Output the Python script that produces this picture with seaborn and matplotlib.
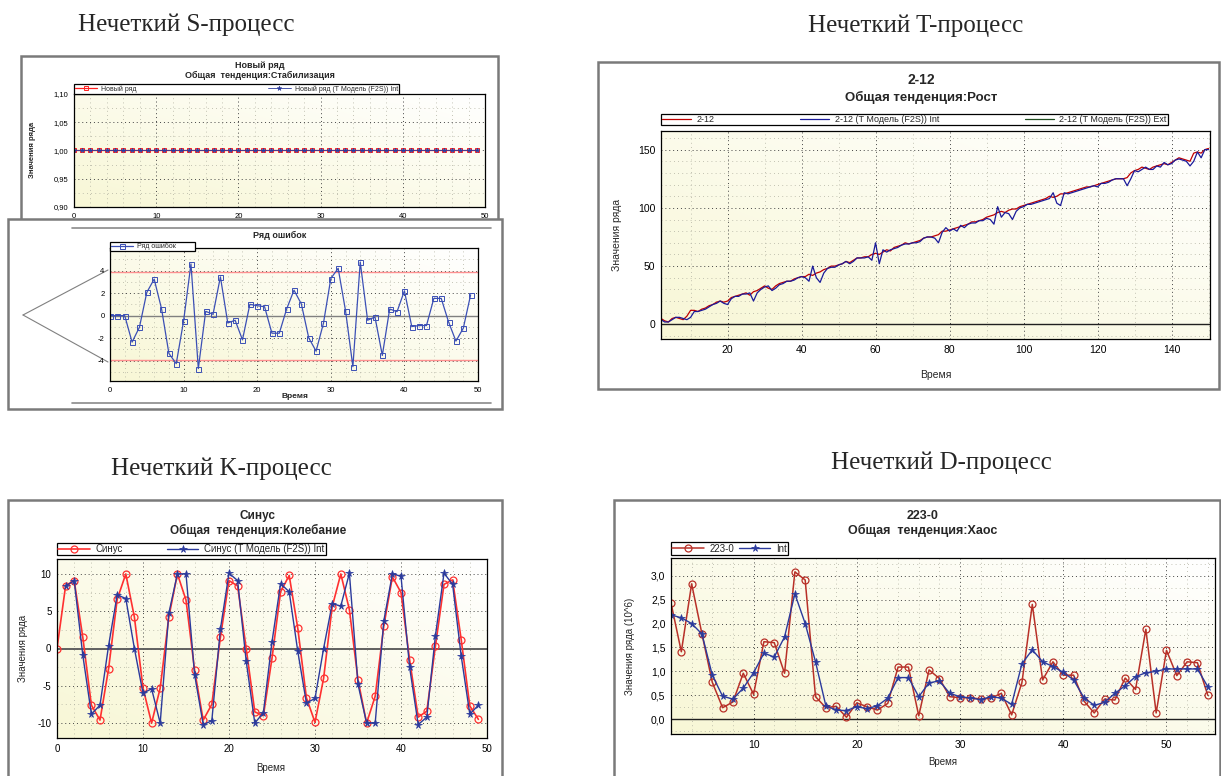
import numpy as np
import matplotlib
matplotlib.use("Agg")
import matplotlib.pyplot as plt
import matplotlib.ticker as mticker
from matplotlib.patches import Rectangle
from matplotlib.lines import Line2D
from matplotlib.colors import LinearSegmentedColormap
import seaborn as sns

sns.set_style("white")
plt.rcParams["font.family"] = ["Liberation Sans", "DejaVu Sans"]
plt.rcParams["axes.unicode_minus"] = False

# ---- data ----
s_time = list(range(0, 50))
s_values = [1.0] * 50
s_model = [1.0] * 50

err_time = list(range(0, 50))
err_values = [0, 0, 0, -2.35, -1.03, 2.06, 3.24, 0.62, -3.35, -4.26,
              -0.47, 4.59, -4.7, 0.38, 0.12, 3.44, -0.65, -0.41, -2.15, 1.0,
              0.88, 0.79, -1.56, -1.56, 0.59, 2.26, 1.03, -1.97, -3.15, -0.68,
              3.29, 4.2, 0.44, -4.53, 4.76, -0.41, -0.12, -3.53, 0.59, 0.35,
              2.2, -0.97, -0.88, -0.88, 1.53, 1.53, -0.56, -2.26, -1.12, 1.85]
err_limit = 3.9

t_time = list(range(2, 151))
t_values = [5, 3, 2, 5, 6, 5, 4, 7, 12, 12,
            11, 13, 14, 16, 17, 19, 20, 19, 20, 23,
            24, 25, 26, 27, 25, 28, 29, 31, 33, 31,
            30, 33, 35, 36, 37, 37, 39, 40, 41, 41,
            43, 42, 44, 45, 47, 48, 50, 50, 51, 52,
            54, 53, 55, 57, 57, 58, 58, 60, 61, 60,
            62, 64, 63, 66, 67, 68, 70, 69, 70, 71,
            72, 74, 75, 75, 76, 77, 80, 80, 81, 82,
            83, 84, 85, 86, 88, 88, 89, 90, 92, 93,
            94, 96, 97, 96, 98, 99, 99, 101, 102, 103,
            104, 105, 106, 107, 108, 110, 109, 110, 112, 112,
            113, 114, 115, 116, 117, 118, 118, 119, 120, 121,
            122, 123, 124, 125, 125, 125, 126, 130, 132, 133,
            135, 134, 133, 135, 136, 137, 138, 137, 139, 141,
            143, 142, 141, 140, 147, 148, 147, 150, 151]
t_model = [4, 2, 2, 4, 6, 6, 5, 4, 6, 11,
           11, 12, 13, 15, 17, 18, 20, 18, 17, 22,
           24, 24, 26, 26, 27, 20, 27, 30, 32, 33,
           29, 31, 34, 35, 37, 37, 38, 40, 41, 40,
           37, 50, 40, 36, 44, 48, 49, 49, 51, 52,
           54, 52, 54, 57, 57, 57, 58, 55, 70, 52,
           64, 62, 64, 65, 66, 68, 69, 69, 70, 70,
           71, 74, 75, 75, 74, 70, 79, 83, 80, 82,
           80, 85, 83, 86, 87, 87, 89, 89, 91, 90,
           86, 101, 92, 96, 95, 90, 97, 100, 101, 103,
           103, 104, 105, 106, 107, 108, 113, 104, 102, 113,
           112, 113, 114, 115, 116, 117, 118, 119, 118, 121,
           121, 122, 124, 125, 125, 125, 119, 125, 132, 131,
           133, 135, 133, 133, 136, 135, 139, 137, 138, 141,
           142, 141, 140, 136, 140, 148, 143, 150, 150]

k_time = list(range(0, 50))
k_values = [0, 8.4, 9.1, 1.5, -7.6, -9.6, -2.7, 6.6, 10.0, 4.2,
            -5.3, -10.0, -5.3, 4.2, 10.0, 6.5, -2.9, -9.6, -7.5, 1.5,
            9.1, 8.4, 0, -8.5, -9.0, -1.3, 7.6, 9.8, 2.7, -6.6,
            -9.9, -4.0, 5.6, 10.0, 5.2, -4.2, -10.0, -6.4, 3.0, 9.6,
            7.5, -1.5, -9.2, -8.4, 0.3, 8.6, 9.2, 1.2, -7.7, -9.5]
k_model_time = list(range(1, 50))
k_model = [8.4, 9.1, -0.9, -8.8, -7.6, 0.4, 7.2, 6.7, 0.0,
           -6.0, -5.4, -10.0, 4.7, 10.0, 10.0, -3.5, -10.2, -9.7, 2.6,
           10.1, 9.1, -1.7, -10.0, -8.6, 0.9, 8.7, 7.6, -0.4, -7.3,
           -6.7, 0.0, 6.0, 5.7, 10.1, -4.8, -10.0, -10.0, 3.7, 10.0,
           9.7, -2.5, -10.2, -9.2, 1.7, 10.1, 8.6, -1.0, -8.8, -7.6]

d_time = list(range(2, 55))
d_values = [2.43, 1.41, 2.83, 1.78, 0.77, 0.24, 0.36, 0.96, 0.52,
            1.62, 1.6, 0.96, 3.08, 2.91, 0.47, 0.24, 0.27, 0.04, 0.34,
            0.26, 0.19, 0.33, 1.09, 1.09, 0.07, 1.03, 0.85, 0.47, 0.45,
            0.45, 0.42, 0.44, 0.54, 0.09, 0.77, 2.4, 0.82, 1.2, 0.92,
            0.92, 0.38, 0.13, 0.42, 0.4, 0.86, 0.62, 1.88, 0.13, 1.44,
            0.91, 1.2, 1.18, 0.5]
d_model = [2.18, 2.12, 2.0, 1.78, 0.92, 0.48, 0.42, 0.65, 0.97,
           1.38, 1.3, 1.72, 2.62, 2.0, 1.2, 0.28, 0.19, 0.18, 0.26,
           0.22, 0.28, 0.44, 0.87, 0.87, 0.47, 0.76, 0.8, 0.54, 0.47,
           0.44, 0.41, 0.47, 0.44, 0.31, 1.16, 1.45, 1.2, 1.1, 0.98,
           0.82, 0.45, 0.29, 0.35, 0.54, 0.7, 0.89, 0.97, 1.0, 1.05,
           1.05, 1.05, 1.05, 0.68]

# ---- layout helpers (pixel coordinates of the 1221x776 canvas) ----
W, H = 1221, 776
fig = plt.figure(figsize=(W / 100, H / 100), dpi=100)
fig.patch.set_facecolor("white")

cream = LinearSegmentedColormap.from_list("cream", ["#f8f7d6", "#ffffff"])


def fx(x):
    return x / W


def fy(y):
    return 1 - y / H


def add_axes_px(l, t, r, b, z=1):
    return fig.add_axes([fx(l), fy(b), (r - l) / W, (b - t) / H], zorder=z)


def frame(l, t, r, b, z=0.2, fill=False):
    fig.add_artist(Rectangle((fx(l), fy(b)), (r - l) / W, (b - t) / H,
                             transform=fig.transFigure, fill=fill,
                             facecolor="white", edgecolor="#7a7a7a",
                             linewidth=1.8, zorder=z))


def style_axes(ax, xmaj, xmin, ymaj, ymin, size, fmt=None):
    gx, gy = np.meshgrid(np.linspace(0, 1, 40), np.linspace(0, 1, 40))
    ax.imshow((gx + gy) / 2, cmap=cream, origin="lower", extent=(0, 1, 0, 1),
              transform=ax.transAxes, aspect="auto", zorder=0,
              interpolation="bilinear")
    ax.xaxis.set_major_locator(mticker.MultipleLocator(xmaj))
    ax.xaxis.set_minor_locator(mticker.MultipleLocator(xmin))
    ax.yaxis.set_major_locator(mticker.MultipleLocator(ymaj))
    ax.yaxis.set_minor_locator(mticker.MultipleLocator(ymin))
    if fmt:
        ax.yaxis.set_major_formatter(
            mticker.FuncFormatter(lambda v, p: fmt.format(v).replace(".", ",")))
    ax.grid(True, which="major", linestyle=(0, (1, 3)), color="#444444", lw=0.7)
    ax.grid(True, which="minor", linestyle=(0, (1, 4)), color="#b0b0a0", lw=0.6)
    ax.tick_params(which="major", direction="inout", length=4, width=0.8,
                   labelsize=size, pad=2, colors="black")
    ax.tick_params(which="minor", direction="in", length=2, width=0.6)
    for sp in ax.spines.values():
        sp.set_visible(True)
        sp.set_color("black")
        sp.set_linewidth(0.9)


def legend_px(ax, l, t, r, b, ncol, size, handles=None, expand=True):
    if handles is None:
        handles, _ = ax.get_legend_handles_labels()
    ax.legend(handles=handles, loc="center left" if not expand else "center",
              bbox_to_anchor=(fx(l), fy(b), (r - l) / W, (b - t) / H),
              bbox_transform=fig.transFigure, mode="expand" if expand else None,
              ncol=ncol, fontsize=size, frameon=True, fancybox=False,
              edgecolor="black", framealpha=1, borderpad=0.15,
              borderaxespad=0, handlelength=3.2, handletextpad=0.6,
              columnspacing=0.5, labelspacing=0.1)
    ax.get_legend().get_frame().set_linewidth(0.9)


def label_px(ax, l, t, r, b, xlab=None, ylab=None, size=7, weight="normal"):
    if xlab:
        ax.set_xlabel(xlab[0], fontsize=size, fontweight=weight)
        ax.xaxis.set_label_coords((xlab[1] - l) / (r - l), (b - xlab[2]) / (b - t))
        ax.xaxis.label.set_va("center")
    if ylab:
        ax.set_ylabel(ylab[0], fontsize=size, fontweight=weight)
        ax.yaxis.set_label_coords((ylab[1] - l) / (r - l), (b - ylab[2]) / (b - t))
        ax.yaxis.label.set_va("center")


# ---- headers ----
serif = ["Liberation Serif", "DejaVu Serif"]
fig.text(fx(186), fy(25), "Нечеткий S-процесс", family=serif, size=18, ha="center", va="center")
fig.text(fx(916), fy(26), "Нечеткий T-процесс", family=serif, size=18, ha="center", va="center")
fig.text(fx(221), fy(469), "Нечеткий K-процесс", family=serif, size=18, ha="center", va="center")
fig.text(fx(941), fy(463), "Нечеткий D-процесс", family=serif, size=18, ha="center", va="center")

RED = "#ff2020"
BLUE = "#2b3a9c"

# ---- S-process ----
frame(21, 56, 498, 240, z=0.2, fill=True)
S = (74, 94, 485, 207)
ax_s = add_axes_px(*S, z=1)
style_axes(ax_s, 10, 2, 0.05, 0.025, 5.5, fmt="{:.2f}")
sns.lineplot(x=s_time, y=s_values, ax=ax_s, color=RED, lw=0.9, marker="s", ms=3.2,
             mfc="none", mec=RED, mew=0.7, label="Новый ряд")
sns.lineplot(x=s_time, y=s_model, ax=ax_s, color=BLUE, lw=0.6, marker="*", ms=3.5,
             mec=BLUE, mew=0.4, label="Новый ряд (T Модель (F2S)) Int")
ax_s.set_xlim(0, 50)
ax_s.set_ylim(0.90, 1.10)
legend_px(ax_s, 74, 85, 399, 93, 2, 5)
label_px(ax_s, *S, ylab=("Значения ряда", 33, 150), size=5.5, weight="bold")
fig.text(fx(260), fy(66), "Новый ряд", size=6.5, weight="bold", ha="center", va="center")
fig.text(fx(260), fy(75), "Общая  тенденция:Стабилизация", size=6.5, weight="bold",
         ha="center", va="center")

# ---- error series ----
frame(8, 219, 502, 409, z=2, fill=True)
fig.add_artist(Line2D([fx(72), fx(491)], [fy(228), fy(228)], color="#8a8a8a", lw=1.2, zorder=2.5))
fig.add_artist(Line2D([fx(72), fx(491)], [fy(403), fy(403)], color="#8a8a8a", lw=1.2, zorder=2.5))
fig.add_artist(Line2D([fx(23), fx(108)], [fy(315), fy(270)], color="#808080", lw=0.8, zorder=2.5))
fig.add_artist(Line2D([fx(23), fx(108)], [fy(315), fy(362)], color="#808080", lw=0.8, zorder=2.5))
E = (110, 248, 478, 381)
ax_e = add_axes_px(*E, z=3)
style_axes(ax_e, 10, 2, 2, 1, 5.5)
ax_e.axhline(0, color="#808080", lw=1.0, zorder=1.8)
ax_e.axhline(err_limit, color="#ff9090", lw=1.0, zorder=1.8)
ax_e.axhline(-err_limit, color="#ff9090", lw=1.0, zorder=1.8)
sns.lineplot(x=err_time, y=err_values, ax=ax_e, color="#3b4fb5", lw=0.9, marker="s",
             ms=3.6, mfc="none", mec="#3b4fb5", mew=0.7, label="Ряд ошибок")
ax_e.set_xlim(0, 50)
ax_e.set_ylim(-5.8, 6.0)
ax_e.yaxis.set_major_locator(mticker.FixedLocator([-4, -2, 0, 2, 4]))
legend_px(ax_e, 110, 243, 195, 250, 1, 5)
label_px(ax_e, *E, xlab=("Время", 295, 397), size=6, weight="bold")
fig.text(fx(280), fy(235), "Ряд ошибок", size=6.5, weight="bold", ha="center",
         va="center", zorder=4)

# ---- T-process ----
frame(598, 62, 1219, 389, z=0.2)
T = (661, 131, 1210, 339)
ax_t = add_axes_px(*T, z=1)
style_axes(ax_t, 20, 10, 50, 10, 7.5)
ax_t.axhline(0, color="#202020", lw=1.0, zorder=1.8)
sns.lineplot(x=t_time, y=t_values, ax=ax_t, color="#c00000", lw=0.9, label="2-12")
sns.lineplot(x=t_time, y=t_model, ax=ax_t, color="#1a1a9a", lw=0.9,
             label="2-12 (T Модель (F2S)) Int")
ax_t.set_xlim(2, 150.4)
ax_t.set_ylim(-12.6, 166)
t_handles, _ = ax_t.get_legend_handles_labels()
t_handles.append(Line2D([], [], color="#1f4d1f", lw=0.9, label="2-12 (T Модель (F2S)) Ext"))
legend_px(ax_t, 661, 115, 1168, 124, 3, 6.5, handles=t_handles)
label_px(ax_t, *T, xlab=("Время", 936, 375), ylab=("Значения ряда", 617, 235), size=7.5)
fig.text(fx(921), fy(80), "2-12", size=10, weight="bold", ha="center", va="center")
fig.text(fx(921), fy(97), "Общая тенденция:Рост", size=9.5, weight="bold",
         ha="center", va="center")

# ---- K-process ----
frame(8, 500, 502, 800, z=0.2)
K = (57, 559, 487, 738)
ax_k = add_axes_px(*K, z=1)
style_axes(ax_k, 10, 2, 5, 2.5, 7)
ax_k.axhline(0, color="#606060", lw=1.4, zorder=1.8)
sns.lineplot(x=k_time, y=k_values, ax=ax_k, color="#ff3030", lw=1.2, marker="o", ms=5,
             mfc="none", mec="#ff3030", mew=0.9, label="Синус")
sns.lineplot(x=k_model_time, y=k_model, ax=ax_k, color=BLUE, lw=1.0, marker="*", ms=5.5,
             mec=BLUE, mew=0.5, label="Синус (T Модель (F2S)) Int")
ax_k.set_xlim(0, 50)
ax_k.set_ylim(-12, 12)
legend_px(ax_k, 57, 544, 326, 554, 2, 7)
label_px(ax_k, *K, xlab=("Время", 271, 768), ylab=("Значения ряда", 23, 648), size=7)
fig.text(fx(258), fy(516), "Синус", size=8.5, weight="bold", ha="center", va="center")
fig.text(fx(258), fy(530), "Общая  тенденция:Колебание", size=8.5, weight="bold",
         ha="center", va="center")

# ---- D-process ----
frame(614, 500, 1220, 800, z=0.2)
D = (671, 558, 1215, 734)
ax_d = add_axes_px(*D, z=1)
style_axes(ax_d, 10, 2, 0.5, 0.25, 7.5, fmt="{:.1f}")
ax_d.axhline(0, color="#202020", lw=1.0, zorder=1.8)
sns.lineplot(x=d_time, y=d_values, ax=ax_d, color="#b83028", lw=1.1, marker="o", ms=5,
             mfc="none", mec="#b83028", mew=0.9, label="223-0")
sns.lineplot(x=d_time, y=d_model, ax=ax_d, color=BLUE, lw=1.0, marker="*", ms=5.5,
             mec=BLUE, mew=0.5, label="Int")
ax_d.set_xlim(2, 54.7)
ax_d.set_ylim(-0.31, 3.37)
legend_px(ax_d, 671, 544, 803, 553, 2, 7, expand=False)
label_px(ax_d, *D, xlab=("Время", 943, 762), ylab=("Значения ряда (10^6)", 630, 646), size=7)
fig.text(fx(923), fy(516), "223-0", size=9, weight="bold", ha="center", va="center")
fig.text(fx(923), fy(530), "Общая  тенденция:Хаос", size=9, weight="bold",
         ha="center", va="center")

fig.savefig("out.png", dpi=100, facecolor="white")
